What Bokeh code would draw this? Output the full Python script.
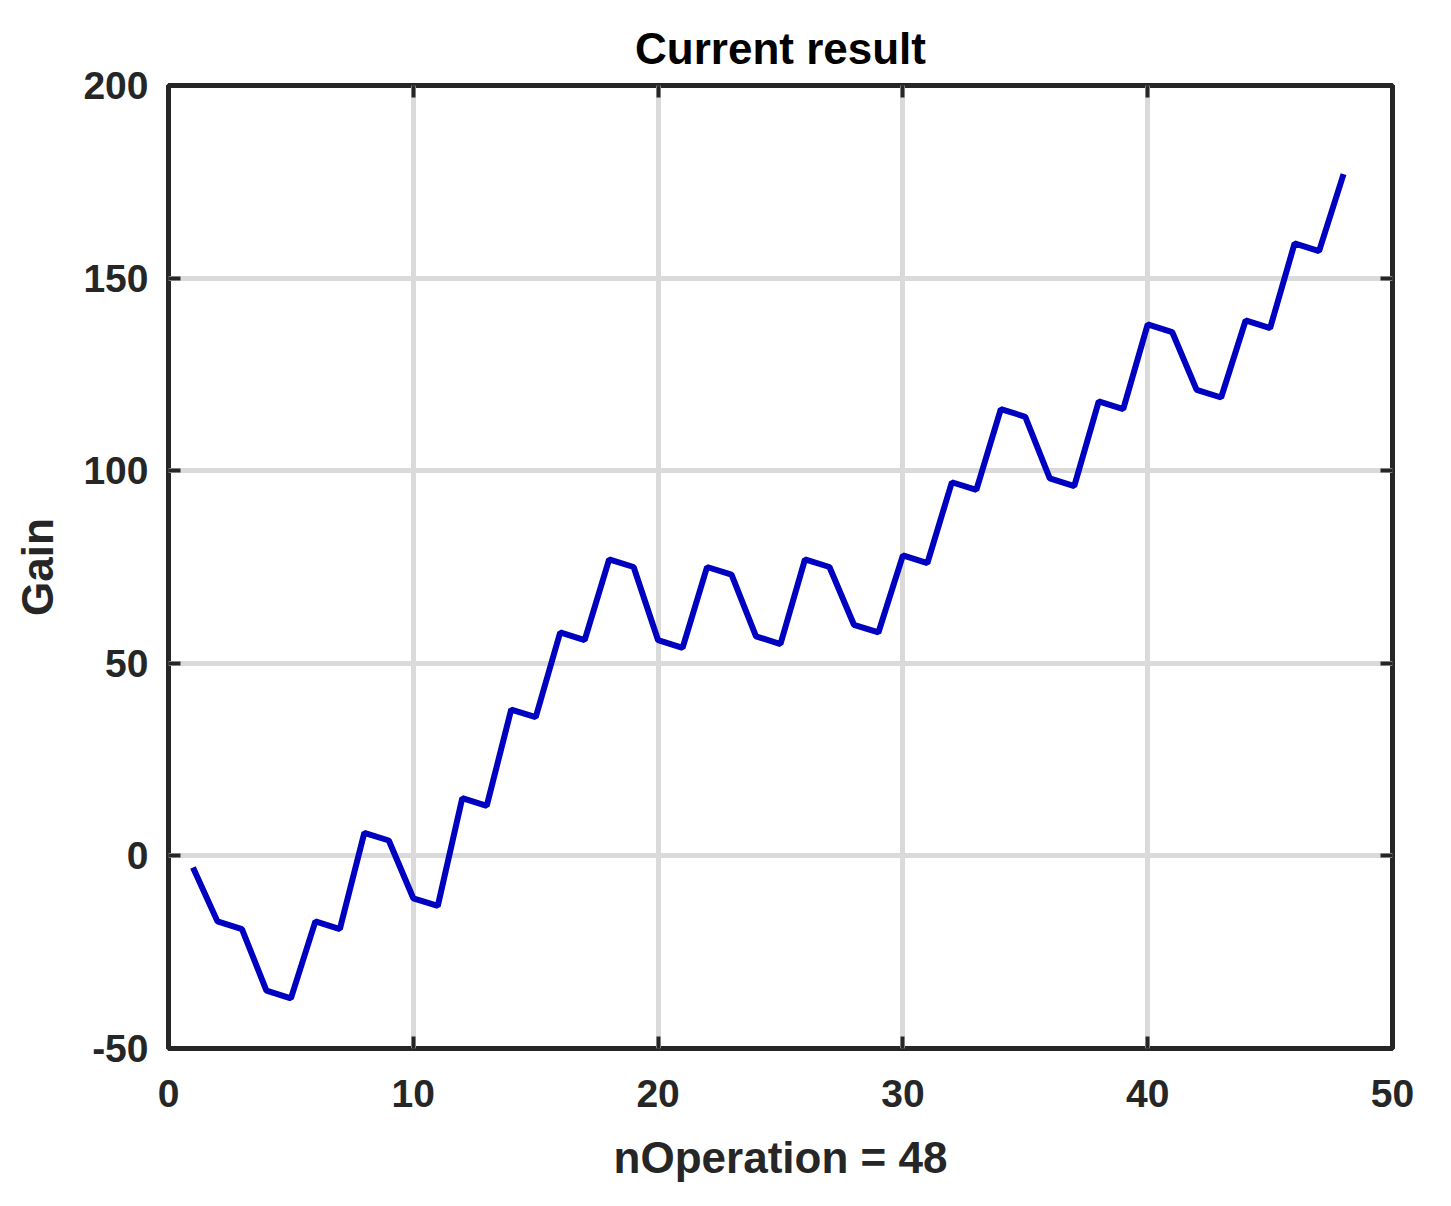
from bokeh.plotting import figure
from bokeh.models import LinearAxis, FixedTicker, Range1d, PrintfTickFormatter
from bokeh.embed import file_html
from bokeh.resources import INLINE

n_operation = list(range(1, 49))
gain = [-3, -17, -19, -35, -37, -17, -19, 6, 4, -11, -13, 15, 13, 38, 36, 58, 56, 77, 75, 56,
        54, 75, 73, 57, 55, 77, 75, 60, 58, 78, 76, 97, 95, 116, 114, 98, 96, 118, 116, 138,
        136, 121, 119, 139, 137, 159, 157, 177]
x_ticks = [0, 10, 20, 30, 40, 50]
y_ticks = [-50, 0, 50, 100, 150, 200]

FONT = "Liberation Sans"
DARK = "#262626"

p = figure(width=1435, height=1190, output_backend="svg", toolbar_location=None,
           x_range=Range1d(0, 50), y_range=Range1d(-50, 200),
           min_border_left=168, min_border_right=43, min_border_top=85, min_border_bottom=142,
           x_axis_label="nOperation = 48", y_axis_label="Gain")

p.title.text = "Current result"
p.title.align = "center"
p.title.text_font = FONT
p.title.text_font_size = "44px"
p.title.text_font_style = "bold"
p.title.text_color = "#000000"
p.title.standoff = 26

p.outline_line_color = DARK
p.outline_line_width = 5
p.background_fill_color = "white"
p.border_fill_color = "white"

p.xgrid.ticker = FixedTicker(ticks=x_ticks)
p.ygrid.ticker = FixedTicker(ticks=y_ticks)
for g in (p.xgrid, p.ygrid):
    g.grid_line_color = "#DADADA"
    g.grid_line_width = 5

for ax in (p.xaxis[0], p.yaxis[0]):
    ax.axis_line_color = None
    ax.major_tick_in = 12
    ax.major_tick_out = 0
    ax.major_tick_line_width = 4
    ax.major_tick_line_color = DARK
    ax.minor_tick_line_color = None
    ax.major_label_text_font = FONT
    ax.major_label_text_font_size = "39px"
    ax.major_label_text_font_style = "bold"
    ax.major_label_text_color = DARK
    ax.axis_label_text_font = FONT
    ax.axis_label_text_font_size = "44px"
    ax.axis_label_text_font_style = "bold"
    ax.axis_label_text_color = DARK
    ax.formatter = PrintfTickFormatter(format="%d")

p.xaxis[0].ticker = FixedTicker(ticks=x_ticks)
p.yaxis[0].ticker = FixedTicker(ticks=y_ticks)
p.xaxis[0].major_label_standoff = 31
p.yaxis[0].major_label_standoff = 20
p.xaxis[0].axis_label_standoff = 23
p.yaxis[0].axis_label_standoff = 18

# mirrored ticks on top and right
top = LinearAxis(ticker=FixedTicker(ticks=x_ticks))
right = LinearAxis(ticker=FixedTicker(ticks=y_ticks))
for ax in (top, right):
    ax.axis_line_color = None
    ax.major_tick_in = 12
    ax.major_tick_out = 0
    ax.major_tick_line_width = 4
    ax.major_tick_line_color = DARK
    ax.minor_tick_line_color = None
    ax.major_label_text_font_size = "0px"
    ax.major_label_text_color = None
    ax.major_label_standoff = 0
p.add_layout(top, "above")
p.add_layout(right, "right")

p.line(n_operation, gain, line_color="#0000C0", line_width=6)

open("out.html", "w").write(file_html(p, INLINE))
